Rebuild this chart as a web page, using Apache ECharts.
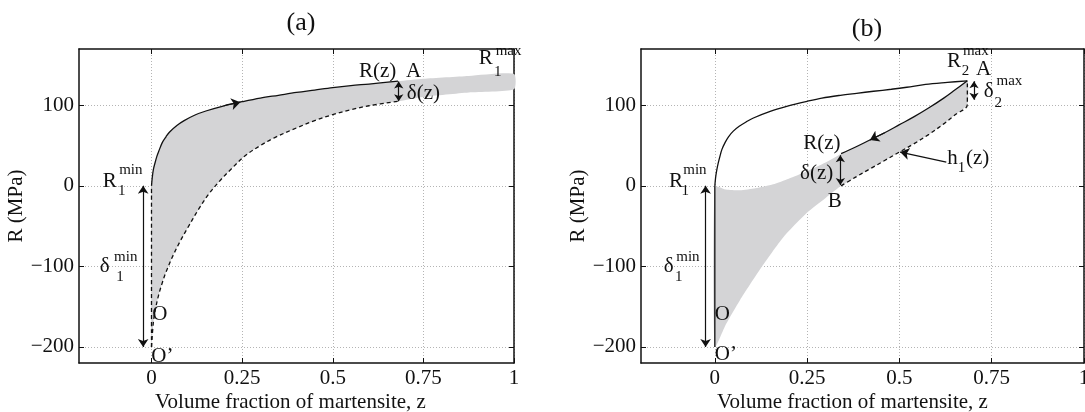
<!DOCTYPE html>
<html><head><meta charset="utf-8">
<script src="https://cdn.jsdelivr.net/npm/echarts@6/dist/echarts.min.js"></script>
<style>html,body{margin:0;padding:0;background:#fff}#c{width:1085px;height:412px}</style>
</head><body><div id="c"></div>
<script>
// ---------- tick values / labels ----------
const xTicks = [0, 0.25, 0.5, 0.75, 1];
const xTickLabels = ['0', '0.25', '0.5', '0.75', '1'];
const yTicks = [-200, -100, 0, 100];
const yTickLabels = ['\u2212200', '\u2212100', '0', '100'];

// ---------- panel (a) ----------
const aLoadZ = [0, 0.002, 0.005, 0.01, 0.015, 0.02, 0.03, 0.04, 0.05, 0.07, 0.09, 0.12, 0.15, 0.2, 0.25, 0.3, 0.35, 0.4, 0.45, 0.5, 0.55, 0.6, 0.68];
const aLoadR = [0, 10, 20, 29, 37, 43, 54, 61, 67, 75, 81, 88, 93, 99.5, 104.5, 109, 112.5, 116, 119, 122, 124.5, 126.5, 130];
const aLowZ = [0, 0.005, 0.01, 0.02, 0.03, 0.04, 0.06, 0.08, 0.1, 0.13, 0.16, 0.19, 0.22, 0.26, 0.3, 0.34, 0.4, 0.45, 0.5, 0.55, 0.6, 0.68];
const aLowR = [-200, -170, -155, -135, -120, -107, -86, -68, -52, -29, -9, 7, 21, 38, 50, 60, 72, 81, 88.5, 94.5, 99.5, 105];
const aBandZ = [0.68, 0.75, 0.875, 1];
const aBandTop = [130, 133, 136.5, 139];
const aBandBot = [105, 110.5, 116, 120];
const aVertZ = [0, 0];
const aVertR = [-200, 0];

// ---------- panel (b) ----------
const bLoadZ = [0, 0.002, 0.005, 0.009, 0.014, 0.019, 0.028, 0.037, 0.05, 0.066, 0.085, 0.103, 0.15, 0.197, 0.25, 0.29, 0.34, 0.384, 0.43, 0.478, 0.52, 0.571, 0.63, 0.684];
const bLoadR = [0, 10, 19, 28, 37, 45, 54, 61, 68, 74, 79.5, 84, 92.5, 99, 105, 109, 112.5, 115, 117.5, 120, 122.5, 126, 128.5, 130.5];
const bUnloadZ = [0.342, 0.38, 0.42, 0.46, 0.5, 0.54, 0.58, 0.62, 0.65, 0.684];
const bUnloadR = [40, 48, 57, 66, 76, 86, 97, 109, 119, 130.5];
const bH1Z = [0.342, 0.38, 0.42, 0.46, 0.5, 0.54, 0.58, 0.62, 0.65, 0.684, 0.684];
const bH1R = [0, 10.5, 21, 31.5, 42, 52.5, 64, 77, 88, 101, 130.5];
const bTopEdgeZ = [0, 0.03, 0.068, 0.11, 0.158, 0.2, 0.248, 0.3, 0.342];
const bTopEdgeR = [-1, -4.5, -5.5, -3, 2, 9, 18, 29, 40];
const bBotEdgeZ = [0, 0.03, 0.068, 0.125, 0.185, 0.248, 0.3, 0.342];
const bBotEdgeR = [-200, -172, -142, -102, -64, -34, -15, 0];
const bVertZ = [0, 0];
const bVertR = [-200, 0];

const FONT = 'Liberation Serif';
const INK = '#111111';
const FILL = '#d4d4d6';

function pts(zs, rs) { return zs.map((z, i) => [z, rs[i]]); }

// fill polygons built from the curves above
const aFill = [].concat(
  pts(aLoadZ, aLoadR),
  pts(aBandZ, aBandTop),
  pts(aBandZ, aBandBot).reverse(),
  pts(aLowZ, aLowR).reverse()
);
const bFill = [].concat(
  pts(bTopEdgeZ, bTopEdgeR),
  pts(bUnloadZ, bUnloadR),
  pts(bH1Z.slice(0, -1), bH1R.slice(0, -1)).reverse(),
  pts(bBotEdgeZ, bBotEdgeR).reverse()
);

function xAxes(gi, name, shift) {
  const common = { type: 'value', gridIndex: gi, min: -0.2, max: 1 };
  return [
    Object.assign({}, common, {
      position: 'bottom',
      axisLine: { onZero: false, lineStyle: { color: INK, width: 1.5 } },
      axisTick: { inside: true, length: 5, customValues: xTicks, lineStyle: { color: INK, width: 1 } },
      axisLabel: { customValues: xTicks, formatter: v => xTickLabels[xTicks.indexOf(v)] ?? '', fontFamily: FONT, fontSize: 21, color: INK, margin: 5 },
      splitLine: { show: true, lineStyle: { type: [1, 2], color: '#b4b4b4', width: 1 } },
      name: name, nameLocation: 'middle', nameGap: 29, nameMoveOverlap: false,
      nameTextStyle: { fontFamily: FONT, fontSize: 21, color: INK, padding: [0, shift, 0, 0] }
    }),
    Object.assign({}, common, {
      position: 'top',
      axisLine: { onZero: false, lineStyle: { color: INK, width: 1.5 } },
      axisTick: { inside: true, length: 5, customValues: xTicks, lineStyle: { color: INK, width: 1 } },
      axisLabel: { show: false }, splitLine: { show: false }
    })
  ];
}
function yAxes(gi) {
  const common = { type: 'value', gridIndex: gi, min: -220, max: 170 };
  return [
    Object.assign({}, common, {
      position: 'left',
      axisLine: { onZero: false, lineStyle: { color: INK, width: 1.5 } },
      axisTick: { inside: true, length: 5, customValues: yTicks, lineStyle: { color: INK, width: 1 } },
      axisLabel: { customValues: yTicks, formatter: v => yTickLabels[yTicks.indexOf(v)] ?? '', fontFamily: FONT, fontSize: 21, color: INK, margin: 5 },
      splitLine: { show: true, lineStyle: { type: [1, 2], color: '#b4b4b4', width: 1 } },
      name: 'R (MPa)', nameLocation: 'middle', nameGap: 52, nameRotate: 90, nameMoveOverlap: false,
      nameTextStyle: { fontFamily: FONT, fontSize: 21, color: INK }
    }),
    Object.assign({}, common, {
      position: 'right',
      axisLine: { onZero: false, lineStyle: { color: INK, width: 1.5 } },
      axisTick: { inside: true, length: 5, customValues: yTicks, lineStyle: { color: INK, width: 1 } },
      axisLabel: { show: false }, splitLine: { show: false }
    })
  ];
}

function curve(ax, zs, rs, dashed) {
  return {
    type: 'line', xAxisIndex: ax.x, yAxisIndex: ax.y, data: pts(zs, rs),
    showSymbol: false, symbol: 'none', smooth: 0.35, silent: true, z: 5,
    lineStyle: { color: INK, width: 1.3, type: dashed ? [4, 3] : 'solid' }
  };
}
function poly(ax, points) {
  return {
    type: 'custom', xAxisIndex: ax.x, yAxisIndex: ax.y, data: [points[0]], silent: true, z: 2,
    renderItem: (p, api) => ({
      type: 'polygon',
      shape: { points: points.map(q => api.coord(q)), smooth: 0.2 },
      style: { fill: FILL }
    })
  };
}
function arrows(ax, list) {
  return {
    type: 'lines', coordinateSystem: 'cartesian2d', xAxisIndex: ax.x, yAxisIndex: ax.y, silent: true, z: 6,
    data: list.map(a => ({ coords: a.c, symbol: a.s, symbolSize: a.size || 8 })),
    lineStyle: { color: INK, width: 1.2, opacity: 1 }
  };
}
function texts(ax, list) {
  return {
    type: 'scatter', xAxisIndex: ax.x, yAxisIndex: ax.y, symbolSize: 1, clip: false, silent: true, z: 7,
    itemStyle: { color: 'rgba(0,0,0,0)' },
    data: list.map(t => ({
      value: [t[1], t[2]],
      label: { show: true, position: 'inside', formatter: t[0], fontSize: t[3] === 's' ? 15 : 21, fontFamily: FONT, color: INK, textBorderWidth: 0, opacity: 1 }
    }))
  };
}

const A = { x: 0, y: 0 }, B = { x: 2, y: 2 };

const option = {
  animation: false,
  backgroundColor: '#fff',
  title: [
    { text: '(a)', left: 296, top: 5, textAlign: 'center', textStyle: { fontFamily: FONT, fontSize: 26, fontWeight: 'normal', color: INK } },
    { text: '(b)', left: 862, top: 11, textAlign: 'center', textStyle: { fontFamily: FONT, fontSize: 26, fontWeight: 'normal', color: INK } }
  ],
  grid: [
    { left: 79, top: 49, width: 435, height: 314, containLabel: false, outerBoundsMode: 'none' },
    { left: 641, top: 49, width: 443, height: 314, containLabel: false, outerBoundsMode: 'none' }
  ],
  xAxis: [].concat(xAxes(0, 'Volume fraction of martensite, z', 12), xAxes(1, 'Volume fraction of martensite, z', 20)),
  yAxis: [].concat(yAxes(0), yAxes(1)),
  series: [
    // panel a
    poly(A, aFill),
    curve(A, aLoadZ, aLoadR, false),
    curve(A, aLowZ, aLowR, true),
    curve(A, aVertZ, aVertR, true),
    arrows(A, [
      { c: [[-0.023, 0], [-0.023, -200]], s: ['arrow', 'arrow'] },
      { c: [[0.682, 129.5], [0.682, 105]], s: ['arrow', 'arrow'], size: 7 },
      { c: [[0.2, 99.5], [0.245, 104]], s: ['none', 'arrow'], size: 9 }
    ]),
    texts(A, [
      ['R(z)', 0.624, 142], ['A', 0.723, 142], ['\u03b4(z)', 0.75, 115],
      ['R', 0.922, 158], ['max', 0.985, 168, 's'], ['1', 0.955, 141, 's'],
      ['R', -0.115, 6], ['min', -0.057, 20, 's'], ['1', -0.082, -7, 's'],
      ['\u03b4', -0.129, -100], ['min', -0.071, -88, 's'], ['1', -0.087, -113, 's'],
      ['O', 0.023, -160], ['O\u2019', 0.03, -212]
    ]),
    // panel b
    poly(B, bFill),
    curve(B, bLoadZ, bLoadR, false),
    curve(B, bUnloadZ, bUnloadR, false),
    curve(B, bH1Z, bH1R, true),
    curve(B, bVertZ, bVertR, false),
    arrows(B, [
      { c: [[-0.025, 0], [-0.025, -200]], s: ['arrow', 'arrow'] },
      { c: [[0.34, 38], [0.34, 1]], s: ['arrow', 'arrow'], size: 7 },
      { c: [[0.702, 130], [0.702, 107]], s: ['arrow', 'arrow'], size: 7 },
      { c: [[0.46, 66], [0.42, 57]], s: ['none', 'arrow'], size: 9 },
      { c: [[0.627, 29.5], [0.502, 42]], s: ['none', 'arrow'], size: 9 }
    ]),
    texts(B, [
      ['R', 0.648, 155], ['max', 0.707, 168, 's'], ['2', 0.679, 142, 's'], ['A', 0.728, 144],
      ['\u03b4', 0.742, 117], ['max', 0.798, 130, 's'], ['2', 0.768, 103, 's'],
      ['R(z)', 0.29, 53], ['\u03b4(z)', 0.276, 16], ['B', 0.325, -19.5],
      ['h', 0.644, 34], ['1', 0.668, 22, 's'], ['(z)', 0.712, 34],
      ['R', -0.105, 5], ['min', -0.054, 20, 's'], ['1', -0.08, -7, 's'],
      ['\u03b4', -0.125, -100], ['min', -0.073, -88, 's'], ['1', -0.098, -113, 's'],
      ['O', 0.02, -160], ['O\u2019', 0.03, -210]
    ])
  ]
};

const chart = echarts.init(document.getElementById('c'), null, { renderer: 'canvas' });
chart.setOption(option);
</script>
</body></html>
